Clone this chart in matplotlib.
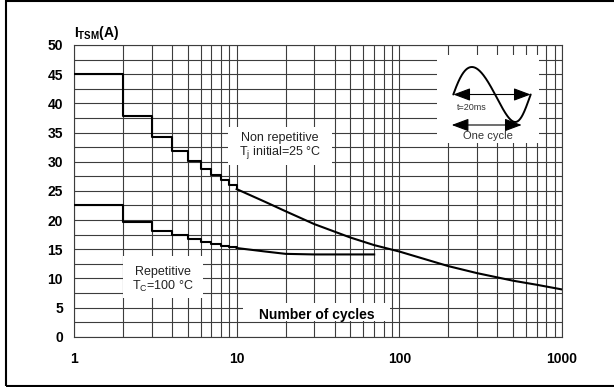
import numpy as np
import matplotlib
matplotlib.use("Agg")
import matplotlib.pyplot as plt
from matplotlib.patches import Rectangle, FancyArrowPatch
from matplotlib.ticker import LogLocator, NullFormatter, FixedLocator

plt.rcParams['font.family'] = ['Liberation Sans', 'DejaVu Sans']
plt.rcParams['mathtext.fontset'] = 'custom'
plt.rcParams['mathtext.rm'] = 'Liberation Sans'
plt.rcParams['mathtext.it'] = 'Liberation Sans:italic'
plt.rcParams['mathtext.bf'] = 'Liberation Sans:bold'

# ---- data -------------------------------------------------------------
# stepped part (cycle n .. n+1), last entry is the value at 10 cycles
step_cycles = [1, 2, 3, 4, 5, 6, 7, 8, 9, 10]
nonrep_steps = [45.0, 37.8, 34.3, 31.9, 30.1, 28.8, 27.8, 26.8, 26.0, 25.3]
rep_steps = [22.5, 19.7, 18.1, 17.4, 16.7, 16.2, 15.85, 15.6, 15.3, 15.2]

# continuous part
nonrep_cycles = [10, 15, 20, 30, 50, 70, 100, 200, 300, 500, 700, 1000]
nonrep_itsm = [25.3, 23.1, 21.5, 19.3, 17.0, 15.7, 14.6, 12.1, 10.9, 9.6, 8.9, 8.1]
rep_cycles = [10, 15, 20, 30, 50, 70]
rep_itsm = [15.2, 14.6, 14.2, 14.1, 14.1, 14.1]

x_ticks = [1, 10, 100, 1000]
x_tick_labels = ["1", "10", "100", "1000"]
y_ticks = [0, 5, 10, 15, 20, 25, 30, 35, 40, 45, 50]

# ---- figure -----------------------------------------------------------
W, H = 614, 387
fig = plt.figure(figsize=(W / 100, H / 100), dpi=100)

ax_l, ax_r, ax_t, ax_b = 74, 562, 45, 336.7
ax = fig.add_axes([ax_l / W, 1 - ax_b / H, (ax_r - ax_l) / W, (ax_b - ax_t) / H])

grid_c = "#3c3c3c"
ax.set_xscale("log")
ax.set_xlim(1, 1000)
ax.set_ylim(0, 50)
ax.xaxis.set_major_locator(FixedLocator(x_ticks))
ax.set_xticklabels(x_tick_labels)
ax.xaxis.set_minor_locator(LogLocator(base=10, subs=range(2, 10)))
ax.xaxis.set_minor_formatter(NullFormatter())
ax.set_yticks(y_ticks)
ax.yaxis.set_minor_locator(FixedLocator(np.arange(0, 50.1, 2.5)))
ax.grid(which="both", color=grid_c, lw=0.8)
ax.set_axisbelow(True)
for s in ax.spines.values():
    s.set_color(grid_c)
    s.set_linewidth(0.8)
ax.tick_params(which="both", length=0)
ax.tick_params(axis="y", pad=8, labelsize=10)
ax.tick_params(axis="x", pad=11, labelsize=10)
for lab in ax.get_xticklabels() + ax.get_yticklabels():
    lab.set_fontweight("bold")

# white label backgrounds that break the grid
def blank(x0, x1, y0, y1):
    ax.add_patch(Rectangle((x0, y0), x1 - x0, y1 - y0, facecolor="white",
                           edgecolor="none", zorder=2))

blank(8.8, 38.5, 29.4, 36.0)
blank(2.01, 6.2, 6.6, 13.8)
blank(10.97, 87.5, 2.7, 5.8)

# curves
lw = 1.5
ax.step(step_cycles, nonrep_steps, where="post", color="black", lw=lw, zorder=3)
ax.plot(nonrep_cycles, nonrep_itsm, color="black", lw=lw, zorder=3)
ax.step(step_cycles, rep_steps, where="post", color="black", lw=lw, zorder=3)
ax.plot(rep_cycles, rep_itsm, color="black", lw=lw, zorder=3)

# labels
tc = "#222222"
ax.text(18.5, 34.0, "Non repetitive", ha="center", va="center", fontsize=9,
        color=tc, zorder=4)
ax.text(18.5, 31.5, r"T$_\mathrm{j}$ initial=25 °C", ha="center", va="center",
        fontsize=9, color=tc, zorder=4)
ax.text(3.52, 11.1, "Repetitive", ha="center", va="center", fontsize=9,
        color=tc, zorder=4)
ax.text(3.52, 8.6, r"T$_\mathrm{C}$=100 °C", ha="center", va="center",
        fontsize=9, color=tc, zorder=4)
ax.text(31, 3.75, "Number of cycles", ha="center", va="center", fontsize=10,
        fontweight="bold", color="black", zorder=4)

fig.text(ax_l / W, 1 - 37 / H, r"$\mathbf{I}_{\mathbf{TSM}}\mathbf{(A)}$",
         ha="left", va="baseline", fontsize=10)

# waveform sketch (pixel coordinates inside its own small axes)
ix0, ix1, iy0, iy1 = 436.7, 539.3, 55, 142.7
ins = fig.add_axes([ix0 / W, 1 - iy1 / H, (ix1 - ix0) / W, (iy1 - iy0) / H])
ins.set_xlim(ix0, ix1)
ins.set_ylim(iy1, iy0)
ins.set_facecolor("white")
for s in ins.spines.values():
    s.set_visible(False)
ins.set_xticks([])
ins.set_yticks([])

t = np.linspace(0, 1, 200)
sx0, sx1, syc, amp = 453.3, 530.7, 94.5, 27.5
frac = t - 0.03 * np.sin(2 * np.pi * t) + 0.02 * (1 - np.cos(2 * np.pi * t))
ins.plot(sx0 + (sx1 - sx0) * frac, syc - amp * np.sin(2 * np.pi * t),
         color="black", lw=1.4, solid_capstyle="round", zorder=3)

def double_arrow(xa, xb, y):
    ins.add_patch(FancyArrowPatch((xa, y), (xb, y),
                                  arrowstyle="<|-|>,head_length=0.75,head_width=0.28",
                                  mutation_scale=14, color="black", lw=0.8,
                                  shrinkA=0, shrinkB=0, zorder=2))

double_arrow(sx0, sx1, syc)
double_arrow(451.7, 521.7, 125)
ins.text(472, 107.3, "t=20ms", ha="center", va="center", fontsize=6.5, color="#333333")
ins.text(488, 136, "One cycle", ha="center", va="center", fontsize=8, color="#333333")

# outer frame
fig.patches.append(Rectangle((6 / W, 1 / H), 1.1, 385 / H, transform=fig.transFigure,
                             fill=False, edgecolor="black", lw=1.5, clip_on=False))

fig.savefig("out.png", dpi=100)
